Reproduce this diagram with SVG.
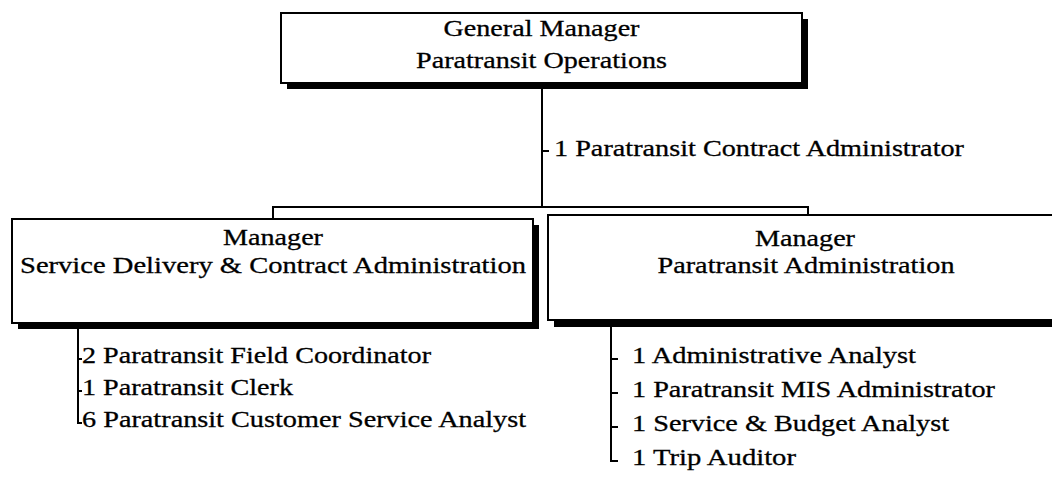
<svg xmlns="http://www.w3.org/2000/svg" width="1052" height="488" viewBox="0 0 1052 488">
<style>
.box{fill:#fff;stroke:#000;stroke-width:2}
.sh{fill:#000}
.t{font-family:"Liberation Serif","Times New Roman",serif;font-size:24px;fill:#000;stroke:#000;stroke-width:0.3}
.c{text-anchor:middle}
.ln{fill:none;stroke:#000;stroke-width:2}
</style>
<rect width="1052" height="488" fill="#fff"/>
<g id="connectors">
<path class="ln" d="M542 89V207M273 219V207H808V215"/>
<path class="ln" d="M542 151H549"/>
<path class="ln" d="M78 329V423H82M78 359H82M78 391H82"/>
<path class="ln" d="M611 326V461H618M611 359H618M611 393H618M611 427H618"/>
</g>
<g id="gm">
<rect class="sh" x="287" y="19" width="521" height="70"/>
<rect class="box" x="281" y="13" width="521" height="70"/>
<text class="t c" x="541.5" y="36" textLength="196" lengthAdjust="spacingAndGlyphs">General Manager</text>
<text class="t c" x="541.5" y="68" textLength="251" lengthAdjust="spacingAndGlyphs">Paratransit Operations</text>
</g>
<g id="contract-admin">
<text class="t" x="554" y="156" textLength="410" lengthAdjust="spacingAndGlyphs">1 Paratransit Contract Administrator</text>
</g>
<g id="mgr-service">
<rect class="sh" x="18" y="225" width="521" height="104"/>
<rect class="box" x="12" y="219" width="521" height="104"/>
<text class="t c" x="273" y="245" textLength="100" lengthAdjust="spacingAndGlyphs">Manager</text>
<text class="t c" x="273" y="273" textLength="506" lengthAdjust="spacingAndGlyphs">Service Delivery &amp; Contract Administration</text>
</g>
<g id="mgr-admin">
<rect class="sh" x="554" y="221" width="520" height="106"/>
<rect class="box" x="548" y="215" width="520" height="105"/>
<text class="t c" x="805" y="246" textLength="100" lengthAdjust="spacingAndGlyphs">Manager</text>
<text class="t c" x="806" y="273" textLength="297" lengthAdjust="spacingAndGlyphs">Paratransit Administration</text>
</g>
<g id="service-staff">
<text class="t" x="82" y="363" textLength="349" lengthAdjust="spacingAndGlyphs">2 Paratransit Field Coordinator</text>
<text class="t" x="82" y="395" textLength="211" lengthAdjust="spacingAndGlyphs">1 Paratransit Clerk</text>
<text class="t" x="82" y="427" textLength="444" lengthAdjust="spacingAndGlyphs">6 Paratransit Customer Service Analyst</text>
</g>
<g id="admin-staff">
<text class="t" x="632" y="363" textLength="284" lengthAdjust="spacingAndGlyphs">1 Administrative Analyst</text>
<text class="t" x="632" y="397" textLength="363" lengthAdjust="spacingAndGlyphs">1 Paratransit MIS Administrator</text>
<text class="t" x="632" y="431" textLength="317" lengthAdjust="spacingAndGlyphs">1 Service &amp; Budget Analyst</text>
<text class="t" x="632" y="465" textLength="164" lengthAdjust="spacingAndGlyphs">1 Trip Auditor</text>
</g>
</svg>
